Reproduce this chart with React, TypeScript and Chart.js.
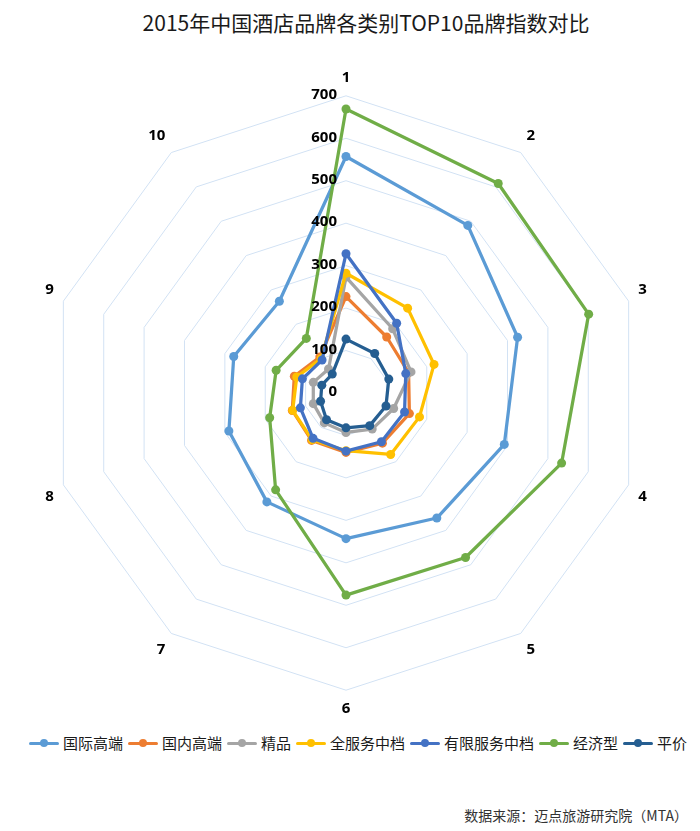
import { useEffect, useRef } from 'react';
import { Chart, registerables } from 'chart.js';

Chart.register(...registerables);

// axes 1..10 (TOP10 rank), scale 0-700
const axisLabels = ['1', '2', '3', '4', '5', '6', '7', '8', '9', '10'];
const tickValues = [0, 100, 200, 300, 400, 500, 600, 700];

const seriesNames = ['国际高端', '国内高端', '精品', '全服务中档', '有限服务中档', '经济型', '平价'];
const seriesColors = ['#5B9BD5', '#ED7D31', '#A5A5A5', '#FFC000', '#4472C4', '#70AD47', '#255E91'];

const intlHighEnd = [557, 488, 425, 392, 364, 343, 317, 290, 278, 267];
const domesticHighEnd = [227, 163, 155, 157, 146, 140, 138, 133, 128, 105];
const boutique = [273, 187, 161, 118, 105, 93, 87, 81, 81, 70];
const fullServiceMid = [282, 247, 218, 182, 179, 136, 136, 132, 122, 100];
const limitedServiceMid = [328, 203, 148, 145, 142, 137, 132, 113, 108, 96];
const economy = [669, 610, 601, 534, 479, 476, 282, 189, 173, 159];
const budget = [127, 115, 106, 99, 95, 82, 78, 63, 60, 55];

const seriesValues = [intlHighEnd, domesticHighEnd, boutique, fullServiceMid, limitedServiceMid, economy, budget];

const cjk = '"Noto Sans CJK SC", "Noto Sans", sans-serif';

// value labels sit just left of the vertical axis, on top of the lines
const tickLabelPlugin = {
  id: 'tickLabels',
  afterDatasetsDraw(chart: any) {
    const scale = chart.scales.r;
    const ctx = chart.ctx;
    ctx.save();
    ctx.font = 'bold 15px "Open Sans", sans-serif';
    ctx.fillStyle = '#000';
    ctx.textAlign = 'right';
    ctx.textBaseline = 'middle';
    tickValues.forEach((v) => {
      const d = scale.getDistanceFromCenterForValue(v);
      ctx.fillText(String(v), scale.xCenter - 9, scale.yCenter - d - 1);
    });
    ctx.restore();
  },
};

export default function App() {
  const canvasRef = useRef<HTMLCanvasElement>(null);
  const chartRef = useRef<Chart | null>(null);

  useEffect(() => {
    if (!canvasRef.current) return;
    if (chartRef.current) chartRef.current.destroy();

    chartRef.current = new Chart(canvasRef.current, {
      type: 'radar',
      data: {
        labels: axisLabels,
        datasets: seriesNames.map((name, i) => ({
          label: name,
          data: seriesValues[i],
          borderColor: seriesColors[i],
          backgroundColor: seriesColors[i],
          pointBackgroundColor: seriesColors[i],
          pointBorderColor: seriesColors[i],
          pointBorderWidth: 0,
          pointRadius: 4.5,
          borderWidth: 3.25,
          borderJoinStyle: 'round',
          fill: false,
          order: -i,
        })),
      },
      options: {
        responsive: true,
        maintainAspectRatio: false,
        animation: false,
        layout: { padding: { top: 69, bottom: 3, left: 0, right: 8 } },
        plugins: {
          legend: { display: false },
          tooltip: { enabled: false },
        },
        scales: {
          r: {
            min: 0,
            max: 700,
            ticks: { stepSize: 100, display: false },
            grid: { color: '#D2E2F4', lineWidth: 1 },
            angleLines: { display: false },
            pointLabels: {
              color: '#000',
              padding: 10,
              font: { family: '"Open Sans", sans-serif', size: 15, weight: 'bold', lineHeight: 1.12 },
            },
          },
        },
      },
      plugins: [tickLabelPlugin],
    });

    return () => {
      if (chartRef.current) { chartRef.current.destroy(); chartRef.current = null; }
    };
  }, []);

  return (
    <div style={{ position: 'absolute', left: 0, top: 0, width: 700, height: 831, background: '#fff', fontFamily: cjk }}>
      <div style={{ position: 'absolute', left: 0, top: 10, width: 732, textAlign: 'center', fontSize: 21, lineHeight: '24px', color: '#1a1a1a' }}>
        2015年中国酒店品牌各类别TOP10品牌指数对比
      </div>
      <div style={{ position: 'absolute', left: 0, top: 0, width: 700, height: 720 }}>
        <canvas ref={canvasRef} />
      </div>
      <div style={{ position: 'absolute', left: 29, top: 734, height: 18, display: 'flex', alignItems: 'center', fontSize: 15, color: '#1a1a1a', whiteSpace: 'nowrap' }}>
        {seriesNames.map((name, i) => (
          <div key={name} style={{ display: 'flex', alignItems: 'center', marginRight: 5 }}>
            <span style={{ position: 'relative', display: 'inline-block', width: 30, height: 10, marginRight: 4 }}>
              <span style={{ position: 'absolute', left: 0, right: 0, top: 3.5, height: 3, background: seriesColors[i], borderRadius: 1.5 }} />
              <span style={{ position: 'absolute', left: 11, top: 1, width: 8, height: 8, borderRadius: '50%', background: seriesColors[i] }} />
            </span>
            <span style={{ lineHeight: '18px' }}>{name}</span>
          </div>
        ))}
      </div>
      <div style={{ position: 'absolute', right: 12, top: 806, fontSize: 14, lineHeight: '18px', color: '#333' }}>
        数据来源：迈点旅游研究院（MTA）
      </div>
    </div>
  );
}
